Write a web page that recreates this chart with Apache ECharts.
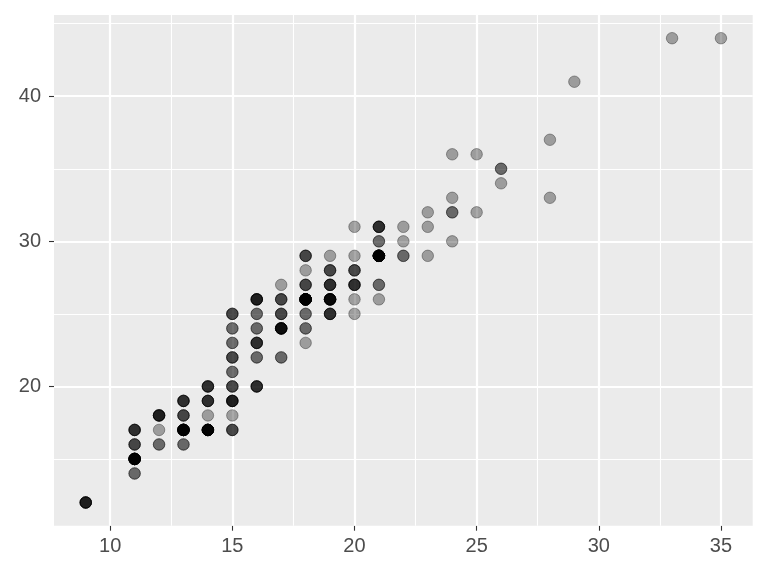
<!DOCTYPE html>
<html>
<head>
<meta charset="utf-8">
<script src="https://cdn.jsdelivr.net/npm/echarts@6/dist/echarts.min.js"></script>
<style>
html,body{margin:0;padding:0;background:#fff;}
#chart{width:768px;height:576px;}
</style>
</head>
<body>
<div id="chart"></div>
<script>
// unique (cty, hwy) positions and how many cars share each
const ctyVals = [9,11,11,11,11,12,12,12,13,13,13,13,14,14,14,14,15,15,15,15,15,15,15,15,15,16,16,16,16,16,16,17,17,17,17,17,18,18,18,18,18,18,18,19,19,19,19,19,20,20,20,20,20,20,21,21,21,21,21,22,22,22,23,23,23,24,24,24,24,25,25,26,26,28,28,29,33,35];
const hwyVals = [12,14,15,16,17,16,17,18,16,17,18,19,17,18,19,20,17,18,19,20,21,22,23,24,25,20,22,23,24,25,26,22,24,25,26,27,23,24,25,26,27,28,29,25,26,27,28,29,25,26,27,28,29,31,26,27,29,30,31,29,30,31,29,31,32,30,32,33,36,32,36,34,35,33,37,41,44,44];
const counts  = [5,2,11,3,4,2,1,5,2,12,3,4,10,1,4,4,3,1,5,3,2,3,2,2,3,4,2,4,2,2,5,2,7,3,3,1,1,2,2,14,3,1,3,4,8,4,3,1,1,1,4,3,1,1,1,2,14,2,4,2,1,1,1,1,1,1,2,1,1,1,1,1,2,1,1,1,1,1];

const xTicks = [10,15,20,25,30,35];
const xMinor = [12.5,17.5,22.5,27.5,32.5];
const yTicks = [20,30,40];
const yMinor = [15,25,35,45];

const points = [];
ctyVals.forEach((c, i) => {
  for (let k = 0; k < counts[i]; k++) points.push([c, hwyVals[i]]);
});

const gridLines = []
  .concat(xMinor.map(v => ({xAxis: v, lineStyle: {width: 1.1}})))
  .concat(yMinor.map(v => ({yAxis: v, lineStyle: {width: 1.1}})))
  .concat(xTicks.map(v => ({xAxis: v, lineStyle: {width: 2.2}})))
  .concat(yTicks.map(v => ({yAxis: v, lineStyle: {width: 2.2}})));

const labelFont = {color: '#4D4D4D', fontSize: 20, fontFamily: 'Liberation Sans, Arial, sans-serif'};

const chart = echarts.init(document.getElementById('chart'), null, {renderer: 'canvas'});
chart.setOption({
  animation: false,
  backgroundColor: '#FFFFFF',
  grid: {left: 54, right: 15.3, top: 15, bottom: 50.3, show: true, backgroundColor: '#EBEBEB', borderWidth: 0},
  xAxis: {
    type: 'value', min: 7.7, max: 36.3,
    axisLine: {show: false},
    axisTick: {show: true, customValues: xTicks, length: 5, lineStyle: {color: '#333333', width: 1.1}},
    axisLabel: Object.assign({customValues: xTicks, margin: 11}, labelFont),
    splitLine: {show: false}
  },
  yAxis: {
    type: 'value', min: 10.4, max: 45.6,
    axisLine: {show: false},
    axisTick: {show: true, customValues: yTicks, length: 5, lineStyle: {color: '#333333', width: 1.1}},
    axisLabel: Object.assign({customValues: yTicks, margin: 13}, labelFont),
    splitLine: {show: false}
  },
  series: [
    {
      type: 'scatter', data: [], z: 1, silent: true,
      markLine: {silent: true, z: 1, symbol: 'none', label: {show: false}, animation: false,
        lineStyle: {color: '#FFFFFF', type: 'solid'}, data: gridLines}
    },
    {
      type: 'scatter', z: 10, silent: true,
      symbol: 'circle', symbolSize: 11.5,
      itemStyle: {color: '#000000', opacity: 1/3, borderColor: '#000000', borderWidth: 1},
      emphasis: {disabled: true},
      data: points
    }
  ]
});
</script>
</body>
</html>
